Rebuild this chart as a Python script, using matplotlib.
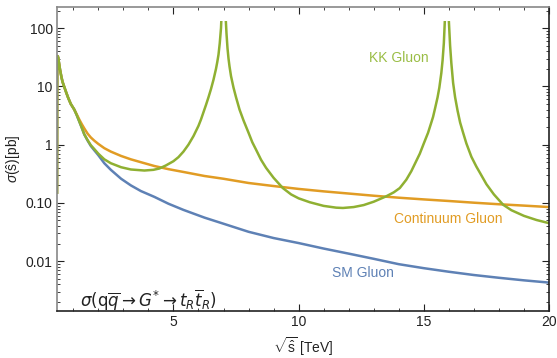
import numpy as np
import matplotlib.pyplot as plt
from matplotlib.patches import Rectangle
from matplotlib.ticker import FixedLocator, NullFormatter

plt.rcParams['font.family'] = ['Liberation Sans', 'DejaVu Sans']
plt.rcParams['mathtext.fontset'] = 'custom'
plt.rcParams['mathtext.rm'] = 'Liberation Sans'
plt.rcParams['mathtext.it'] = 'Liberation Sans:italic'
plt.rcParams['mathtext.bf'] = 'Liberation Sans:bold'

# Donnees (sqrt(s) en TeV, sigma en pb)
x_sm = [0.35, 0.355, 0.36, 0.37, 0.38, 0.4, 0.42, 0.47, 0.52, 0.57, 0.64, 0.72,
        0.8, 0.9, 1.04, 1.14, 1.24, 1.34, 1.44, 1.57, 1.7, 1.84, 2.0, 2.24,
        2.5, 2.91, 3.3, 3.7, 4.24, 4.8, 5.4, 6.24, 7.0, 8.0, 9.0, 10.0,
        11.0, 12.0, 13.0, 14.0, 15.0, 16.0, 17.0, 18.0, 19.0, 20.0]
sig_sm = [0.15, 8, 22, 31, 33, 31, 27, 19.5, 15, 12, 9.8, 7.8,
          6.3, 5.0, 4.0, 3.2, 2.5, 1.95, 1.5, 1.18, 0.95, 0.8, 0.66, 0.48,
          0.37, 0.26, 0.2, 0.16, 0.127, 0.097, 0.076, 0.056, 0.044, 0.032, 0.025, 0.0205,
          0.0165, 0.0135, 0.011, 0.0089, 0.0076, 0.0066, 0.0058, 0.0052, 0.0047, 0.0043]

x_cont = [0.35, 0.355, 0.36, 0.37, 0.38, 0.4, 0.42, 0.47, 0.52, 0.57, 0.64, 0.72,
          0.8, 0.9, 1.04, 1.14, 1.24, 1.34, 1.44, 1.57, 1.7, 1.84, 2.0, 2.24,
          2.5, 2.91, 3.3, 3.7, 4.24, 4.8, 5.4, 6.24, 7.0, 8.0, 9.0, 10.0,
          11.0, 12.0, 13.0, 14.0, 15.0, 16.0, 17.0, 18.0, 19.0, 20.0]
sig_cont = [0.15, 8, 22, 31, 33, 31, 27, 19.5, 15, 12, 9.8, 7.8,
            6.3, 5.0, 4.0, 3.3, 2.7, 2.25, 1.9, 1.55, 1.33, 1.17, 1.03, 0.87,
            0.76, 0.64, 0.56, 0.5, 0.43, 0.38, 0.34, 0.29, 0.26, 0.22, 0.195, 0.174,
            0.158, 0.145, 0.133, 0.123, 0.115, 0.108, 0.101, 0.095, 0.09, 0.085]

x_kk = [0.35, 0.355, 0.36, 0.37, 0.38, 0.4, 0.42, 0.47, 0.52, 0.57, 0.64, 0.72,
        0.8, 0.9, 1.04, 1.14, 1.24, 1.34, 1.44, 1.57, 1.7, 1.84, 2.0, 2.24,
        2.5, 2.91, 3.3, 3.84, 4.2, 4.44, 4.7,
        5.0, 5.2, 5.4, 5.6, 5.8, 6.0, 6.1, 6.2, 6.3, 6.4, 6.5, 6.6, 6.7, 6.75,
        6.8, 6.85, 6.9, 6.94, 7.04, 7.08, 7.12, 7.16, 7.2, 7.24, 7.3, 7.4, 7.5,
        7.64, 7.8, 8.0, 8.15, 8.3, 8.5, 8.7, 9.0, 9.37, 9.7, 10.0, 10.44, 11.0,
        11.5, 11.77, 12.2, 12.6, 13.0, 13.5, 13.8, 14.04, 14.3, 14.5, 14.84, 15.0,
        15.17, 15.3, 15.37, 15.45, 15.55, 15.62, 15.7, 15.75, 15.8, 15.84, 15.88,
        15.96, 16.0, 16.05, 16.1, 16.17, 16.25, 16.35, 16.45, 16.57, 16.7, 16.9,
        17.1, 17.24, 17.5, 17.8, 18.17, 18.5, 19.0, 19.5, 20.0]
sig_kk = [0.15, 8, 22, 31, 33, 31, 27, 19.5, 15, 12, 9.8, 7.8,
          6.3, 5.0, 4.0, 3.2, 2.5, 1.95, 1.5, 1.2, 0.98, 0.84, 0.7, 0.56,
          0.48, 0.41, 0.375, 0.36, 0.37, 0.39, 0.44,
          0.52, 0.61, 0.76, 1.0, 1.4, 2.1, 2.7, 3.6, 4.8, 6.5, 9.0, 13, 20, 26,
          35, 55, 100, 250, 400, 170, 80, 45, 30, 22, 15, 9.5, 6.5,
          4.0, 2.6, 1.6, 1.1, 0.82, 0.55, 0.4, 0.27, 0.18, 0.14, 0.12, 0.103, 0.089,
          0.083, 0.082, 0.085, 0.092, 0.105, 0.13, 0.152, 0.18, 0.25, 0.35, 0.7, 1.05,
          1.6, 2.4, 3.0, 4.2, 6.5, 9.5, 17, 28, 55, 134, 500,
          500, 134, 50, 25, 11.5, 6.5, 3.8, 2.4, 1.6, 1.05, 0.62,
          0.42, 0.33, 0.21, 0.14, 0.093, 0.075, 0.06, 0.051, 0.045]

x_ticks = [5, 10, 15, 20]
y_ticks = [0.01, 0.1, 1, 10, 100]
y_ticklabels = ["0.01", "0.10", "1", "10", "100"]

c_sm = "#5E81B5"
c_cont = "#E19C24"
c_kk = "#8FB032"

fig = plt.figure(figsize=(5.57, 3.58), dpi=100)
ax = fig.add_axes([57 / 557, 47 / 358, 492 / 557, 304 / 358])

ax.set_yscale("log")
ax.set_xlim(0.35, 20)
ax.set_ylim(0.0014, 230)

ax.plot(x_sm, sig_sm, color=c_sm, lw=1.8)
ax.plot(x_cont, sig_cont, color=c_cont, lw=1.8)
kk_line, = ax.plot(x_kk, sig_kk, color=c_kk, lw=1.8)
# la courbe KK sort de la zone de trace (coupee vers ~134 pb)
clip = Rectangle((0.35, 0.0014), 19.65, 134 - 0.0014, transform=ax.transData)
kk_line.set_clip_path(clip)

# etiquettes des courbes
ax.text(14.0, 31, "KK Gluon", color="#9ABD45", fontsize=10, ha="center", va="center")
ax.text(15.96, 0.052, "Continuum Gluon", color=c_cont, fontsize=10, ha="center", va="center")
ax.text(12.58, 0.0063, "SM Gluon", color=c_sm, fontsize=10, ha="center", va="center")
ax.text(4.0, 0.0021, r"$\sigma(\mathrm{q}\overline{q}\rightarrow G^{*}\rightarrow t_R\overline{t}_R)$",
        color="#222222", fontsize=12, ha="center", va="center", math_fontfamily="dejavusans")

# cadre facon Mathematica
ax.spines["left"].set_color("#888888")
ax.spines["top"].set_color("#888888")
ax.spines["bottom"].set_color("#222222")
ax.spines["right"].set_color("#222222")
for s in ax.spines.values():
    s.set_linewidth(1.2)

ax.set_xticks(x_ticks)
ax.set_xticklabels([str(t) for t in x_ticks])
ax.xaxis.set_minor_locator(FixedLocator([i for i in range(1, 20) if i % 5 != 0]))
ax.set_yticks(y_ticks)
ax.set_yticklabels(y_ticklabels)
ax.yaxis.set_minor_locator(FixedLocator(
    [m * 10.0 ** e for e in range(-3, 3) for m in range(2, 10)]))
ax.yaxis.set_minor_formatter(NullFormatter())

ax.tick_params(which="both", direction="in", top=True, right=True, colors="#222222",
               labelsize=10, labelcolor="#222222")
ax.tick_params(which="major", length=5, width=0.8, pad=3)
ax.tick_params(which="minor", length=2.5, width=0.6)

ax.set_xlabel(r"$\sqrt{\hat{\mathrm{s}}}$ [TeV]", fontsize=10, color="#222222", labelpad=4)
ax.set_ylabel(r"$\sigma(\hat{\mathrm{s}})$[pb]", fontsize=10, color="#222222", labelpad=2)

fig.savefig("out.png", dpi=100)
